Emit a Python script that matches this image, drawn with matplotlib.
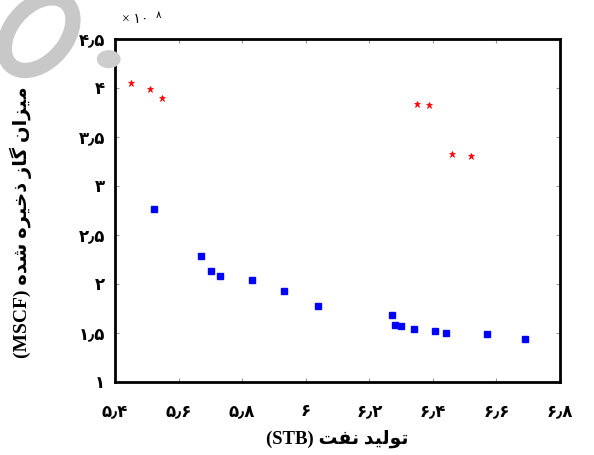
import matplotlib
matplotlib.use('Agg')
import matplotlib.pyplot as plt
from matplotlib.patches import Ellipse, Circle

# data (x: oil production, y: stored gas x1e8)
red_x = [5.449, 5.510, 5.549, 6.349, 6.387, 6.459, 6.519]
red_y = [4.054, 3.987, 3.901, 3.834, 3.823, 3.323, 3.309]

blue_x = [5.523, 5.670, 5.701, 5.730, 5.832, 5.931, 6.039, 6.270, 6.281,
          6.299, 6.340, 6.408, 6.441, 6.571, 6.689]
blue_y = [2.765, 2.286, 2.130, 2.082, 2.044, 1.932, 1.779, 1.681, 1.579,
          1.571, 1.538, 1.517, 1.503, 1.487, 1.439]

xticks = [5.4, 5.6, 5.8, 6.0, 6.2, 6.4, 6.6, 6.8]
xtick_labels = ['۵٫۴', '۵٫۶', '۵٫۸', '۶', '۶٫۲', '۶٫۴', '۶٫۶', '۶٫۸']
yticks = [1, 1.5, 2, 2.5, 3, 3.5, 4, 4.5]
ytick_labels = ['۱', '۱٫۵', '۲', '۲٫۵', '۳', '۳٫۵', '۴', '۴٫۵']

# persian labels, pre-shaped (presentation forms) in visual order
xlabel = '(STB) ' + '\uFE96\uFED4\uFEE7' + ' ' + '\uFEAA\uFBFF\uFEDF\uFEEE\uFE97'
ylabel = ('(MSCF) ' + '\uFEE9\uFEAA\uFEB7' + ' ' +
          '\uFEE9\uFEAE\uFBFF\uFEA7\uFEAB' + ' ' +
          '\uFEAF\uFE8E\uFB94' + ' ' +
          '\uFEE5\uFE8D\uFEB0\uFBFF\uFEE3')

fam = ['Liberation Serif', 'DejaVu Sans']

fig = plt.figure(figsize=(5.94, 4.55), dpi=100)

# grey watermark in the top-left corner
fig.patches.append(Ellipse((0.065, 0.925), 0.10, 0.17, angle=-25,
                           transform=fig.transFigure, fill=False,
                           ec='#c8c8c8', lw=11, zorder=0))
fig.patches.append(Circle((0.183, 0.87), 0.02, transform=fig.transFigure,
                          fc='#cdcdcd', ec='none', zorder=0))

ax = fig.add_axes([0.1936, 0.1604, 0.7492, 0.7539])
ax.set_facecolor('white')

ax.plot(red_x, red_y, '*', color='red', markersize=5, markeredgewidth=0.5)
ax.plot(blue_x, blue_y, 's', color='blue', markersize=5)

ax.set_xlim(5.4, 6.8)
ax.set_ylim(1, 4.5)

ax.set_xticks(xticks)
ax.set_xticklabels(xtick_labels, family=fam, fontsize=12, fontweight='bold')
ax.set_yticks(yticks)
ax.set_yticklabels(ytick_labels, family=fam, fontsize=12, fontweight='bold')
ax.tick_params(direction='in', length=3, color='#999999', top=True, right=True)
ax.tick_params(axis='x', pad=16)
ax.tick_params(axis='y', pad=7)

for s in ax.spines.values():
    s.set_linewidth(2)
    s.set_color('black')

ax.set_xlabel(xlabel, family=fam, fontsize=13.5, fontweight='bold')
ax.set_ylabel(ylabel, family=fam, fontsize=14, fontweight='bold')
ax.xaxis.set_label_coords(0.5, -0.14)
ax.yaxis.set_label_coords(-0.187, 0.466)

# exponent above the axes
fig.text(0.205, 0.958, '× ۱۰', family=fam, fontsize=10, va='center')
fig.text(0.262, 0.966, '۸', family=fam, fontsize=7.5, va='center')

fig.savefig('out.png', dpi=100)
